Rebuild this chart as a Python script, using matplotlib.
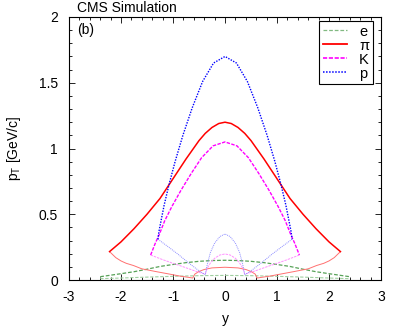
import matplotlib
matplotlib.use('Agg')
import matplotlib.pyplot as plt
from matplotlib.ticker import MultipleLocator, FuncFormatter
from matplotlib.lines import Line2D

plt.rcParams['font.family'] = ['Liberation Sans', 'DejaVu Sans']
plt.rcParams['mathtext.fontset'] = 'custom'
plt.rcParams['mathtext.rm'] = 'Liberation Sans'
plt.rcParams['mathtext.it'] = 'Liberation Sans:italic'
plt.rcParams['axes.unicode_minus'] = False

# ---------------- data ----------------
labels = ['e', 'π', 'K', 'p']

# electrons
e_up_y = [-2.4, -2.0, -1.75, -1.5, -1.25, -1.0, -0.75, -0.5, -0.25, 0.0,
          0.25, 0.5, 0.75, 1.0, 1.25, 1.5, 1.75, 2.0, 2.4]
e_up_pt = [0.025, 0.048, 0.063, 0.082, 0.103, 0.118, 0.132, 0.142, 0.148, 0.150,
           0.148, 0.142, 0.132, 0.118, 0.103, 0.082, 0.063, 0.048, 0.025]
e_lo_y = [-2.4, -2.0, -1.5, -1.0, -0.5, 0.0, 0.5, 1.0, 1.5, 2.0, 2.4]
e_lo_pt = [0.010, 0.015, 0.022, 0.028, 0.033, 0.035, 0.033, 0.028, 0.022, 0.015, 0.010]

# pions
pi_up_y = [-2.22, -2.08, -2.0, -1.75, -1.5, -1.25, -1.0, -0.75, -0.5, -0.38, -0.25, -0.12, 0.0,
           0.12, 0.25, 0.38, 0.5, 0.75, 1.0, 1.25, 1.5, 1.75, 2.0, 2.08, 2.22]
pi_up_pt = [0.216, 0.263, 0.29, 0.39, 0.50, 0.62, 0.77, 0.92, 1.06, 1.115, 1.16, 1.19, 1.20,
            1.19, 1.16, 1.115, 1.06, 0.92, 0.77, 0.62, 0.50, 0.39, 0.29, 0.263, 0.216]
pi_lo_y = [-2.22, -2.1, -2.0, -1.9, -1.76, -1.6, -1.3, -1.0, -0.87, -0.7, -0.62,
           -0.58, -0.5, -0.4, -0.25, 0.0, 0.25, 0.4, 0.5, 0.58,
           0.62, 0.7, 0.87, 1.0, 1.3, 1.6, 1.76, 1.9, 2.0, 2.1, 2.22]
pi_lo_pt = [0.216, 0.17, 0.145, 0.127, 0.11, 0.085, 0.062, 0.040, 0.030, 0.020, 0.015,
            0.045, 0.065, 0.080, 0.092, 0.097, 0.092, 0.080, 0.065, 0.045,
            0.015, 0.020, 0.030, 0.040, 0.062, 0.085, 0.11, 0.127, 0.145, 0.17, 0.216]

# kaons
k_up_y = [-1.43, -1.39, -1.34, -1.26, -1.16, -1.02, -0.85, -0.65, -0.45, -0.23, 0.0,
          0.23, 0.45, 0.65, 0.85, 1.02, 1.16, 1.26, 1.34, 1.39, 1.43]
k_up_pt = [0.19, 0.23, 0.28, 0.35, 0.45, 0.56, 0.68, 0.81, 0.93, 1.02, 1.05,
           1.02, 0.93, 0.81, 0.68, 0.56, 0.45, 0.35, 0.28, 0.23, 0.19]
k_lo_y = [-1.43, -1.2, -1.0, -0.8, -0.6, -0.45, -0.38,
          -0.34, -0.28, -0.2, -0.1, 0.0, 0.1, 0.2, 0.28, 0.34,
          0.38, 0.45, 0.6, 0.8, 1.0, 1.2, 1.43]
k_lo_pt = [0.19, 0.155, 0.127, 0.10, 0.072, 0.052, 0.045,
           0.09, 0.13, 0.165, 0.19, 0.198, 0.19, 0.165, 0.13, 0.09,
           0.045, 0.052, 0.072, 0.10, 0.127, 0.155, 0.19]

# protons
p_up_y = [-1.29, -1.27, -1.23, -1.17, -1.08, -0.96, -0.81, -0.63, -0.43, -0.22, 0.0,
          0.22, 0.43, 0.63, 0.81, 0.96, 1.08, 1.17, 1.23, 1.27, 1.29]
p_up_pt = [0.31, 0.37, 0.45, 0.57, 0.72, 0.90, 1.10, 1.31, 1.51, 1.65, 1.70,
           1.65, 1.51, 1.31, 1.10, 0.90, 0.72, 0.57, 0.45, 0.37, 0.31]
p_lo_y = [-1.29, -1.1, -0.9, -0.7, -0.5, -0.38,
          -0.34, -0.28, -0.2, -0.1, 0.0, 0.1, 0.2, 0.28, 0.34,
          0.38, 0.5, 0.7, 0.9, 1.1, 1.29]
p_lo_pt = [0.31, 0.255, 0.195, 0.13, 0.07, 0.04,
           0.12, 0.21, 0.28, 0.33, 0.35, 0.33, 0.28, 0.21, 0.12,
           0.04, 0.07, 0.13, 0.195, 0.255, 0.31]

x_ticks = [-3, -2, -1, 0, 1, 2, 3]
y_ticks = [0, 0.5, 1, 1.5, 2]

# ---------------- figure ----------------
fig = plt.figure(figsize=(4.07, 3.26), dpi=100)
ax = fig.add_axes([69 / 407, 1 - 280 / 326, 312 / 407, 263 / 326])

green, green_l = '#2e8b2e', '#a0cfa0'
red, red_l = '#ff0000', '#ff7070'
mag, mag_l = '#ff00ff', '#ff90ff'
blue, blue_l = '#0000ff', '#8c8cff'

k_dash = (0, (2.5, 1))
p_dot = (0, (1, 1))
e_dash = (0, (3, 1.5))

ax.plot(e_lo_y, e_lo_pt, color=green_l, ls=e_dash, lw=0.8)
ax.plot(e_up_y, e_up_pt, color=green, ls=e_dash, lw=0.9, alpha=0.8)
ax.plot(pi_lo_y, pi_lo_pt, color=red_l, ls='-', lw=0.7)
ax.plot(pi_up_y, pi_up_pt, color=red, ls='-', lw=1.1)
ax.plot(k_lo_y, k_lo_pt, color=mag_l, ls=k_dash, lw=0.7)
ax.plot(k_up_y, k_up_pt, color=mag, ls=k_dash, lw=1.0)
ax.plot(p_lo_y, p_lo_pt, color=blue_l, ls=p_dot, lw=0.7)
ax.plot(p_up_y, p_up_pt, color=blue, ls=p_dot, lw=1.0)

ax.set_xlim(-3, 3)
ax.set_ylim(0, 2)
ax.set_xticks(x_ticks)
ax.set_yticks(y_ticks)
ax.xaxis.set_minor_locator(MultipleLocator(0.2))
ax.yaxis.set_minor_locator(MultipleLocator(0.1))
ax.yaxis.set_major_formatter(FuncFormatter(lambda v, p: '%g' % v))
ax.xaxis.set_major_formatter(FuncFormatter(lambda v, p: '%g' % v))
ax.tick_params(which='both', direction='in', top=True, right=True, labelsize=10, width=0.6)
ax.tick_params(which='major', length=4.5)
ax.tick_params(which='minor', length=2.5)
ax.tick_params(axis='x', which='major', pad=7)
ax.tick_params(axis='y', which='major', pad=8)
for s in ax.spines.values():
    s.set_linewidth(0.8)

ax.set_xlabel('y', fontsize=10, labelpad=6)
ax.set_ylabel(r'$\mathrm{p_T}$ [GeV/c]', fontsize=10, labelpad=11)

fig.text(77 / 407, 1 - 8 / 326, 'CMS Simulation', fontsize=10, ha='left', va='center')
ax.text(0.025, 0.95, '(b)', transform=ax.transAxes, fontsize=10, ha='left', va='center')

handles = [Line2D([], [], color=green, ls=e_dash, lw=0.9, alpha=0.6),
           Line2D([], [], color=red, ls='-', lw=1.3),
           Line2D([], [], color=mag, ls=k_dash, lw=1.2),
           Line2D([], [], color=blue, ls=p_dot, lw=1.1)]
leg = ax.legend(handles, labels, loc='upper right', bbox_to_anchor=(0.974, 0.985),
                frameon=True, fancybox=False, edgecolor='black', framealpha=1,
                handlelength=1.7, handletextpad=0.8, borderaxespad=0,
                labelspacing=0.0, borderpad=0.25, fontsize=10.5)
leg.get_frame().set_linewidth(0.8)

fig.savefig('out.png', dpi=100)
